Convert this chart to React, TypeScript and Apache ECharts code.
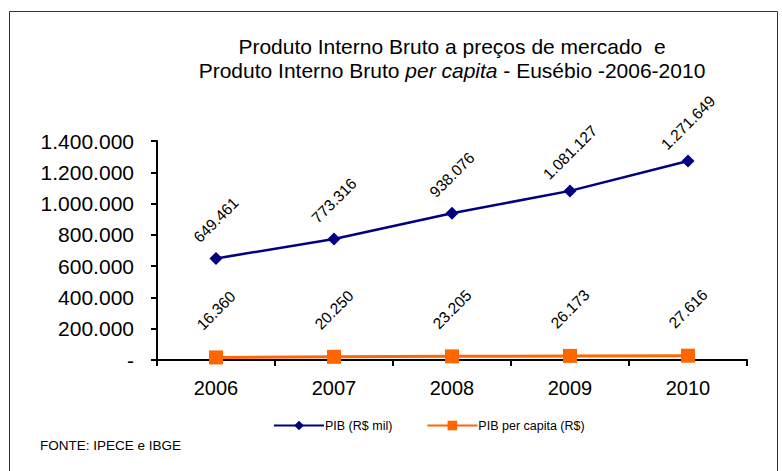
import React, { useEffect, useRef } from "react";
import * as echarts from "echarts";

const categories = ["2006", "2007", "2008", "2009", "2010"];
const pibValues = [649461, 773316, 938076, 1081127, 1271649];
const perCapitaValues = [16360, 20250, 23205, 26173, 27616];
const seriesNames = ["PIB (R$ mil)", "PIB per capita (R$)"];
const yMax = 1400000;
const yInterval = 200000;

const fmt = (v: number) =>
  v === 0 ? "-" : String(Math.round(v)).replace(/\B(?=(\d{3})+(?!\d))/g, ".");

const FONT = "'Liberation Sans', Arial, sans-serif";

export default function App() {
  const ref = useRef<HTMLDivElement>(null);
  useEffect(() => {
    if (!ref.current) return;
    const chart = echarts.init(ref.current, null, { renderer: "svg" });
    const dataLabel = (dist: number) => ({
      show: true,
      position: "top" as const,
      distance: dist,
      rotate: 45,
      align: "center",
      verticalAlign: "middle",
      fontSize: 15.5,
      fontFamily: FONT,
      color: "#000",
      formatter: (p: any) => fmt(p.value),
    });
    chart.setOption({
      animation: false,
      backgroundColor: "#fff",
      textStyle: { fontFamily: FONT },
      title: {
        left: 447,
        top: 29,
        textAlign: "center",
        text:
          "Produto Interno Bruto a preços de mercado  e\nProduto Interno Bruto {i|per capita} - Eusébio -2006-2010",
        textStyle: {
          fontSize: 21,
          fontWeight: "normal",
          color: "#000",
          fontFamily: FONT,
          lineHeight: 24,
          rich: {
            i: { fontStyle: "italic", fontSize: 21, fontFamily: FONT, color: "#000", lineHeight: 24 },
          },
        },
      },
      legend: {
        left: 268,
        top: 414,
        itemWidth: 50,
        itemHeight: 12,
        itemGap: 34,
        textStyle: { fontSize: 12.5, color: "#000", fontFamily: FONT, padding: [0, 0, 0, -4] },
        data: seriesNames,
      },
      grid: { left: 157, top: 141, right: 35, bottom: 111 },
      xAxis: {
        type: "category",
        data: categories,
        boundaryGap: true,
        axisLine: { lineStyle: { color: "#000", width: 2 } },
        axisTick: { show: true, length: 6, lineStyle: { color: "#000", width: 2 } },
        axisLabel: { fontSize: 20, color: "#000", margin: 18, fontFamily: FONT },
      },
      yAxis: {
        type: "value",
        min: 0,
        max: yMax,
        interval: yInterval,
        splitLine: { show: false },
        axisLine: { show: true, lineStyle: { color: "#000", width: 2 } },
        axisTick: { show: true, length: 6, lineStyle: { color: "#000", width: 2 } },
        axisLabel: { fontSize: 21, color: "#000", margin: 23, fontFamily: FONT, formatter: fmt },
      },
      graphic: [
        {
          type: "rect",
          shape: { x: 9.5, y: 11.5, width: 768, height: 480 },
          style: { fill: "none", stroke: "#333", lineWidth: 1 },
          silent: true,
          z: -1,
        },
        {
          type: "text",
          left: 40,
          top: 438,
          style: { text: "FONTE: IPECE e IBGE", fontSize: 13.5, fill: "#000", fontFamily: FONT },
        },
      ],
      series: [
        {
          name: seriesNames[0],
          type: "line",
          data: pibValues,
          symbol: "diamond",
          symbolSize: 13,
          lineStyle: { color: "#000080", width: 2.5 },
          itemStyle: { color: "#000080" },
          label: dataLabel(32),
          z: 3,
        },
        {
          name: seriesNames[1],
          type: "line",
          data: perCapitaValues,
          symbol: "rect",
          symbolSize: 14,
          lineStyle: { color: "#FF6600", width: 3 },
          itemStyle: { color: "#FF6600" },
          label: dataLabel(40),
          z: 4,
        },
      ],
    });
    return () => chart.dispose();
  }, []);
  return <div ref={ref} style={{ width: 782, height: 471, position: "absolute", left: 0, top: 0 }} />;
}
